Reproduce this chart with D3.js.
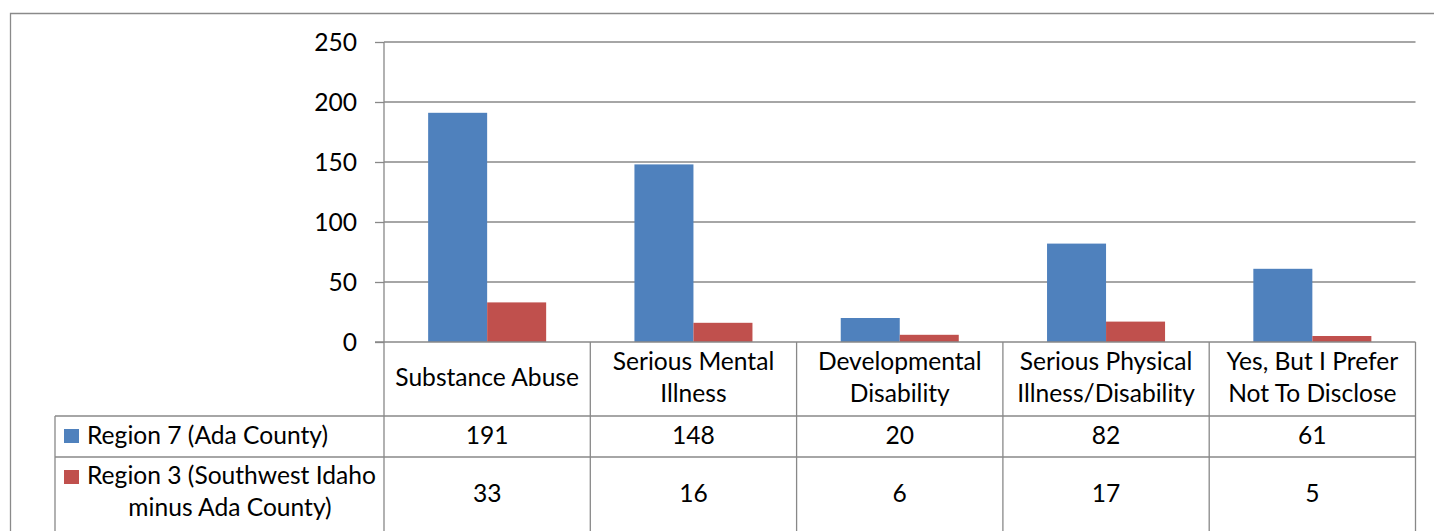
<!DOCTYPE html>
<html><head><meta charset="utf-8">
<script src="https://cdn.jsdelivr.net/npm/d3@7"></script>
<style>html,body{margin:0;padding:0;background:#fff}svg{display:block}</style>
</head><body>
<svg id="c" width="1434" height="531"></svg>
<script>
const categories = [
  ["Substance Abuse"],
  ["Serious Mental", "Illness"],
  ["Developmental", "Disability"],
  ["Serious Physical", "Illness/Disability"],
  ["Yes, But I Prefer", "Not To Disclose"]
];
const seriesNames = ["Region 7 (Ada County)", "Region 3 (Southwest Idaho minus Ada County)"];
const seriesLegendLines = [["Region 7 (Ada County)"], ["Region 3 (Southwest Idaho", "minus Ada County)"]];
const region7 = [191, 148, 20, 82, 61];
const region3 = [33, 16, 6, 17, 5];
const yTicks = [0, 50, 100, 150, 200, 250];
const colors = ["#4F81BD", "#C0504D"];

const FONT = "Lato, 'Open Sans', sans-serif";
const FS = 24.6;
const grid = "#888888";
const svg = d3.select("#c");
const catKeys = categories.map((c, i) => i);

const x0 = d3.scaleBand().domain(catKeys).range([384, 1415.5]).paddingInner(0).paddingOuter(0);
const x1 = d3.scaleBand().domain([0, 1]).range([0, x0.bandwidth()]).paddingInner(0).paddingOuter(0.748);
const y = d3.scaleLinear().domain([0, 250]).range([342, 42]);

// outer frame
svg.append("path").attr("d", "M10.5,531 L10.5,13.5 L1434,13.5")
  .attr("fill", "none").attr("stroke", "#8a8a8a").attr("stroke-width", 1.3);

// gridlines
svg.append("g").selectAll("line").data(yTicks.filter(t => t > 0)).join("line")
  .attr("x1", 384).attr("x2", 1415.5).attr("y1", d => y(d)).attr("y2", d => y(d))
  .attr("stroke", grid).attr("stroke-width", 1.3);

// bars
const seriesVals = [region7, region3];
const g = svg.append("g");
catKeys.forEach(ci => {
  [0, 1].forEach(si => {
    g.append("rect")
      .attr("x", x0(ci) + x1(si))
      .attr("width", x1.bandwidth())
      .attr("y", y(seriesVals[si][ci]))
      .attr("height", y(0) - y(seriesVals[si][ci]))
      .attr("fill", colors[si]);
  });
});

// y axis
const yAxis = d3.axisLeft(y).tickValues(yTicks).tickSize(9).tickPadding(18);
const ya = svg.append("g").attr("transform", "translate(384,0)").call(yAxis);
ya.select(".domain").remove();
ya.selectAll(".tick line").attr("stroke", grid).attr("stroke-width", 1.3);
ya.selectAll(".tick text").attr("font-family", FONT).attr("font-size", FS).attr("fill", "#000")
  .attr("dy", "0.35em");
svg.append("line").attr("x1", 384).attr("x2", 384).attr("y1", 42).attr("y2", 531)
  .attr("stroke", grid).attr("stroke-width", 1.3);

// table lines
const tl = svg.append("g").attr("stroke", grid).attr("stroke-width", 1.3);
tl.append("line").attr("x1", 375).attr("x2", 1415.5).attr("y1", y(0)).attr("y2", y(0));
tl.append("line").attr("x1", 55).attr("x2", 1415.5).attr("y1", 416).attr("y2", 416);
tl.append("line").attr("x1", 55).attr("x2", 1415.5).attr("y1", 457).attr("y2", 457);
tl.append("line").attr("x1", 55).attr("x2", 55).attr("y1", 416).attr("y2", 531);
catKeys.forEach(ci => {
  const xr = x0(ci) + x0.bandwidth();
  tl.append("line").attr("x1", xr).attr("x2", xr).attr("y1", y(0)).attr("y2", 531);
});

// category labels
catKeys.forEach(ci => {
  const lines = categories[ci];
  const cx = x0(ci) + x0.bandwidth() / 2;
  const lh = 32;
  const base = 386 - (lines.length - 1) * lh / 2;
  lines.forEach((t, li) => {
    svg.append("text").attr("x", cx).attr("y", base + li * lh)
      .attr("text-anchor", "middle").attr("font-family", FONT).attr("font-size", FS).text(t);
  });
});

// values rows
const rowBase = [444, 502];
[0, 1].forEach(si => {
  catKeys.forEach(ci => {
    svg.append("text").attr("x", x0(ci) + x0.bandwidth() / 2).attr("y", rowBase[si])
      .attr("text-anchor", "middle").attr("font-family", FONT).attr("font-size", FS)
      .text(seriesVals[si][ci]);
  });
});

// legend cells
svg.append("rect").attr("x", 64).attr("y", 429).attr("width", 15).attr("height", 14).attr("fill", colors[0]);
svg.append("text").attr("x", 87).attr("y", 444).attr("font-family", FONT).attr("font-size", FS).text(seriesLegendLines[0][0]);
svg.append("rect").attr("x", 64).attr("y", 470).attr("width", 15).attr("height", 14).attr("fill", colors[1]);
svg.append("text").attr("x", 87).attr("y", 484).attr("font-family", FONT).attr("font-size", FS).text(seriesLegendLines[1][0]);
svg.append("text").attr("x", 230).attr("y", 516).attr("text-anchor", "middle").attr("font-family", FONT).attr("font-size", FS).text(seriesLegendLines[1][1]);
</script>
</body></html>
